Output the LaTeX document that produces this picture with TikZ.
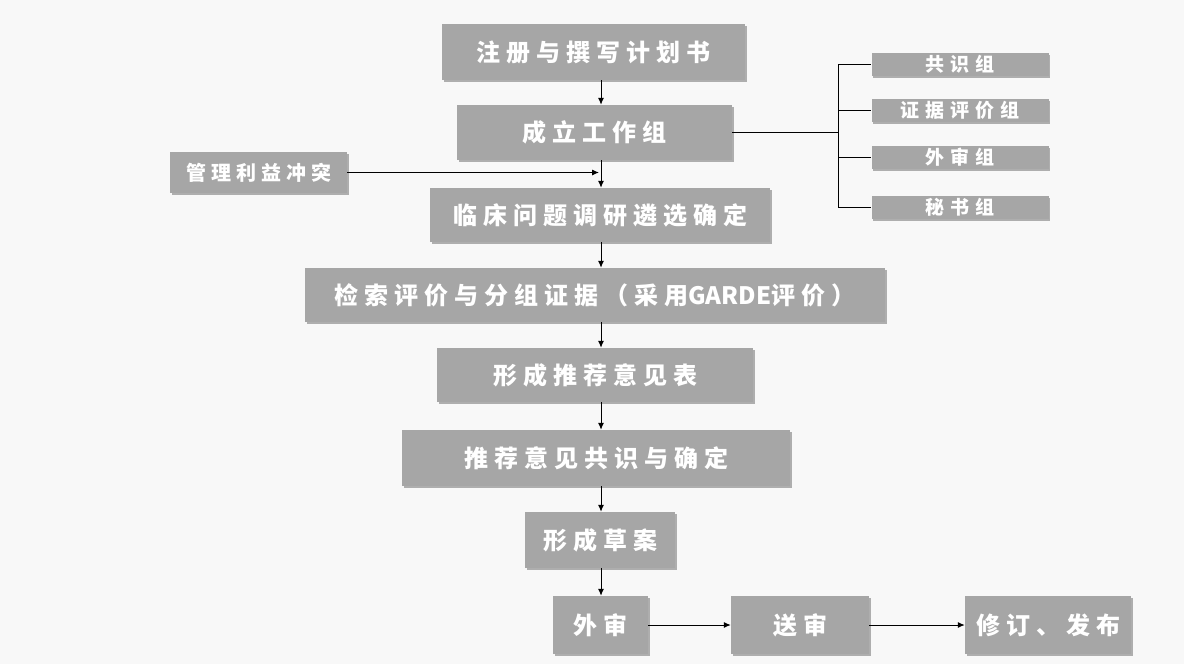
\documentclass[tikz,border=0pt]{standalone}
\usepackage{fontspec}
\newfontfamily\cjk{Noto Sans CJK SC}
\usetikzlibrary{arrows.meta,shadows}
\definecolor{boxgray}{HTML}{A6A6A6}
\definecolor{bggray}{HTML}{F8F8F8}
\begin{document}
\begin{tikzpicture}[x=1pt,y=-1pt,
  box/.style={fill=boxgray, text=white, inner sep=0pt, align=center,
    font=\cjk\bfseries\fontsize{24}{26}\selectfont\addfontfeature{LetterSpace=25},
    drop shadow={shadow xshift=1.5pt, shadow yshift=-2pt, fill=black!55, opacity=0.55}},
  smallbox/.style={box, font=\cjk\bfseries\fontsize{19}{21}\selectfont\addfontfeature{LetterSpace=32}},
  midbox/.style={box, font=\cjk\bfseries\fontsize{20}{22}\selectfont\addfontfeature{LetterSpace=25}},
  conn/.style={line width=1pt, draw=black},
  arr/.style={conn, -{Latex[length=7pt,width=6pt]}}]
\fill[bggray] (0,0) rectangle (1184,664);
\useasboundingbox (0,0) rectangle (1184,664);

\node[box, minimum width=303pt, minimum height=56pt] (b1) at (593.5,52) {注册与撰写计划书};
\node[box, minimum width=275pt, minimum height=55pt] (b2) at (594.5,132.5) {成立工作组};
\node[midbox, minimum width=177pt, minimum height=41pt] (cf) at (258.5,172.5) {管理利益冲突};
\node[box, minimum width=340pt, minimum height=54pt] (b3) at (600,215) {临床问题调研遴选确定};
\node[box, minimum width=580pt, minimum height=54pt] (b4) at (595,295) {检索评价与分组证据（采用{\addfontfeature{LetterSpace=0}GARDE}评价）};
\node[box, minimum width=316pt, minimum height=54pt] (b5) at (595,375) {形成推荐意见表};
\node[box, minimum width=388pt, minimum height=56pt] (b6) at (596,458) {推荐意见共识与确定};
\node[box, minimum width=150pt, minimum height=56pt] (b7) at (600,540) {形成草案};
\node[box, minimum width=95pt, minimum height=58pt] (b8) at (600.5,625) {外审};
\node[box, minimum width=138pt, minimum height=58pt] (b9) at (800,625) {送审};
\node[box, minimum width=166pt, minimum height=58pt] (b10) at (1048,625) {修订、发布};

\node[smallbox, minimum width=177pt, minimum height=23pt] (g1) at (960,64.5) {共识组};
\node[smallbox, minimum width=177pt, minimum height=23pt] (g2) at (960,110) {证据评价组};
\node[smallbox, minimum width=177pt, minimum height=23pt] (g3) at (960,157) {外审组};
\node[smallbox, minimum width=177pt, minimum height=23pt] (g4) at (960,207) {秘书组};

\coordinate (ax) at (601,0);
\coordinate (bx) at (838,0);

\draw[arr] (b1.south -| ax) -- (b2.north -| ax);
\draw[arr] (b2.south -| ax) -- (b3.north -| ax);
\draw[arr] (cf.east) -- ([xshift=-2pt]cf.east -| ax);
\draw[arr] (b3.south -| ax) -- (b4.north -| ax);
\draw[arr] (b4.south -| ax) -- (b5.north -| ax);
\draw[arr] (b5.south -| ax) -- (b6.north -| ax);
\draw[arr] (b6.south -| ax) -- (b7.north -| ax);
\draw[arr] (b7.south -| ax) -- (b8.north -| ax);
\draw[arr] (b8.east) -- (b9.west);
\draw[arr] (b9.east) -- (b10.west);

\draw[conn] (b2.east) -- (b2.east -| bx);
\draw[conn] (g1.west -| bx) -- (g4.west -| bx);
\draw[conn] (g1.west -| bx) -- (g1.west);
\draw[conn] (g2.west -| bx) -- (g2.west);
\draw[conn] (g3.west -| bx) -- (g3.west);
\draw[conn] (g4.west -| bx) -- (g4.west);
\end{tikzpicture}
\end{document}
